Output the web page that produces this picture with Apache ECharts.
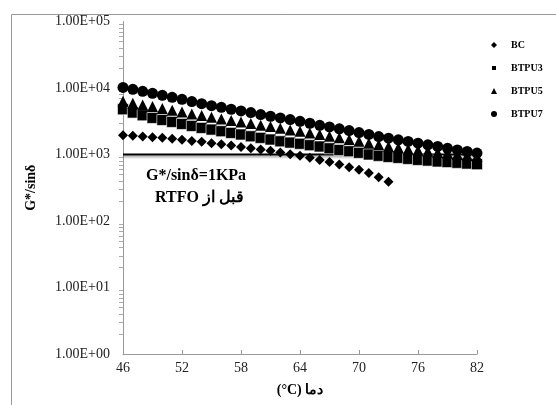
<!DOCTYPE html>
<html>
<head>
<meta charset="utf-8">
<script src="https://cdn.jsdelivr.net/npm/echarts@6/dist/echarts.min.js"></script>
<style>
  html, body { margin: 0; padding: 0; background: #fff; }
  #chart { width: 556px; height: 405px; }
</style>
</head>
<body>
<div id="chart"></div>
<script>
// temperatures (°C)
var temps = [46,47,48,49,50,51,52,53,54,55,56,57,58,59,60,61,62,63,64,65,66,67,68,69,70,71,72,73,74,75,76,77,78,79,80,81,82];
var tempsBC = temps.slice(0, 28); // BC stops at 73

// G*/sin(delta) values
var bc = [1950,1910,1860,1820,1780,1720,1660,1600,1550,1480,1430,1360,1300,1240,1190,1140,1070,1010,955,890,830,770,710,645,590,525,455,390];
var btpu3 = [4790,4270,3890,3550,3310,3090,2880,2690,2510,2370,2240,2110,2000,1880,1780,1680,1580,1510,1450,1380,1320,1240,1170,1120,1060,1000,955,920,890,860,830,810,785,770,750,730,715];
var btpu5 = [6310,5890,5560,5250,4900,4620,4370,4070,3850,3630,3430,3240,3090,2920,2750,2630,2480,2340,2240,2110,2000,1880,1780,1680,1580,1480,1400,1320,1260,1200,1160,1120,1070,1040,1000,970,930];
var btpu7 = [10200,9550,8910,8320,7760,7240,6760,6240,5820,5430,5130,4790,4520,4270,3980,3760,3550,3350,3160,2950,2750,2600,2430,2290,2140,2000,1860,1760,1660,1570,1480,1400,1320,1240,1170,1110,1050];

// 1 kPa limit line
var limitT = [46, 82];
var limitV = [1000, 1000];

var names = ['BC', 'BTPU3', 'BTPU5', 'BTPU7'];

function pairs(xs, ys) {
  var out = [];
  for (var i = 0; i < ys.length; i++) out.push([xs[i], ys[i]]);
  return out;
}

var serif = '"Liberation Serif", "Times New Roman", serif';
var chart = echarts.init(document.getElementById('chart'));

var option = {
  backgroundColor: '#fff',
  animation: false,
  grid: { left: 123, right: 79, top: 21.5, bottom: 51 },
  legend: {
    data: names,
    orient: 'vertical',
    left: 485,
    top: 35,
    itemGap: 13,
    itemWidth: 6,
    itemHeight: 6,
    textStyle: { fontFamily: serif, fontSize: 10, fontWeight: 'bold', color: '#000', padding: [0, 0, 0, 9] }
  },
  xAxis: {
    type: 'value',
    min: 46,
    max: 82,
    interval: 6,
    name: '(°C) دما',
    nameLocation: 'middle',
    nameGap: 29,
    nameTextStyle: { fontFamily: serif, fontSize: 14, fontWeight: 'bold', color: '#000' },
    axisLine: { lineStyle: { color: '#999', width: 1 } },
    axisTick: { inside: true, length: 4, lineStyle: { color: '#999' } },
    axisLabel: { fontFamily: serif, fontSize: 14, color: '#222', margin: 7 },
    splitLine: { show: false }
  },
  yAxis: {
    type: 'log',
    logBase: 10,
    min: 1,
    max: 100000,
    name: 'G*/sinδ',
    nameLocation: 'middle',
    nameGap: 85,
    nameTextStyle: { fontFamily: serif, fontSize: 14, fontWeight: 'bold', color: '#000' },
    axisLine: { show: true, lineStyle: { color: '#999', width: 1 } },
    axisTick: { show: false },
    minorTick: { show: true, splitNumber: 9, length: 4, lineStyle: { color: '#aaa' } },
    axisLabel: {
      fontFamily: serif, fontSize: 14, color: '#222', margin: 13,
      formatter: function (v) {
        var e = Math.round(Math.log10(v));
        return '1.00E+' + (e < 10 ? '0' : '') + e;
      }
    },
    splitLine: { show: false }
  },
  graphic: [
    {
      type: 'rect', left: 9, top: 12, silent: true,
      shape: { width: 560, height: 420 },
      style: { fill: 'none', stroke: '#999', lineWidth: 1 }
    },
    {
      type: 'text', left: 146, top: 168,
      style: { text: 'G*/sinδ=1KPa', font: 'bold 16px ' + serif, fill: '#000' }
    },
    {
      type: 'text', left: 155, top: 190,
      style: { text: 'RTFO قبل از', font: 'bold 16px ' + serif, fill: '#000' }
    }
  ],
  series: [
    {
      name: 'limit', type: 'line', data: pairs(limitT, limitV),
      symbol: 'none', silent: true, z: 1,
      lineStyle: { color: '#000', width: 2.2, shadowColor: 'rgba(0,0,0,0.35)', shadowBlur: 2, shadowOffsetY: 2 }
    },
    {
      name: 'BC', type: 'scatter', data: pairs(tempsBC, bc),
      symbol: 'diamond', symbolSize: 10, z: 2,
      itemStyle: { color: '#000', opacity: 1 }
    },
    {
      name: 'BTPU3', type: 'scatter', data: pairs(temps, btpu3),
      symbol: 'rect', symbolSize: 11, z: 3,
      itemStyle: { color: '#000', opacity: 1, borderColor: '#fff', borderWidth: 0.6 }
    },
    {
      name: 'BTPU5', type: 'scatter', data: pairs(temps, btpu5),
      symbol: 'triangle', symbolSize: 11, z: 4,
      itemStyle: { color: '#000', opacity: 1 }
    },
    {
      name: 'BTPU7', type: 'scatter', data: pairs(temps, btpu7),
      symbol: 'circle', symbolSize: 11, z: 5,
      itemStyle: { color: '#000', opacity: 1 }
    }
  ]
};

chart.setOption(option);
</script>
</body>
</html>
